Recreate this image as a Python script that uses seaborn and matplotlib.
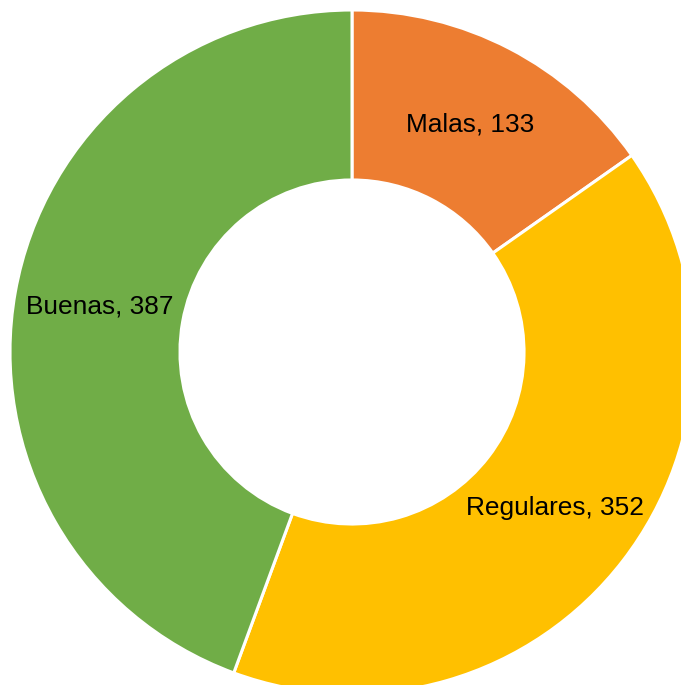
import matplotlib
matplotlib.use("Agg")
import matplotlib.pyplot as plt
import seaborn as sns

categories = ["Malas", "Regulares", "Buenas"]
values = [133, 352, 387]
colors = ["#ED7D31", "#FFC000", "#70AD47"]

sns.set_theme(style="white")
plt.rcParams['font.family'] = ['Liberation Sans', 'DejaVu Sans']

fig = plt.figure(figsize=(6.81, 6.85), dpi=100)
ax = fig.add_axes([0, 0, 1, 1])

labels_iter = iter([f"{c}, {v}" for c, v in zip(categories, values)])

def fmt(_pct):
    return next(labels_iter)

wedges, texts, autotexts = ax.pie(
    values, colors=colors, startangle=90, counterclock=False,
    radius=1.0, autopct=fmt, pctdistance=0.75,
    wedgeprops=dict(width=0.497, edgecolor="white", linewidth=2.2),
    textprops=dict(fontsize=18.9, color="black"),
)

ax.set_aspect('auto')
px = 342.0
ax.set_xlim(-352 / px, (681 - 352) / px)
ax.set_ylim(-(685 - 352) / px, 352 / px)
ax.axis('off')

fig.savefig("out.png", dpi=100, facecolor="white")
